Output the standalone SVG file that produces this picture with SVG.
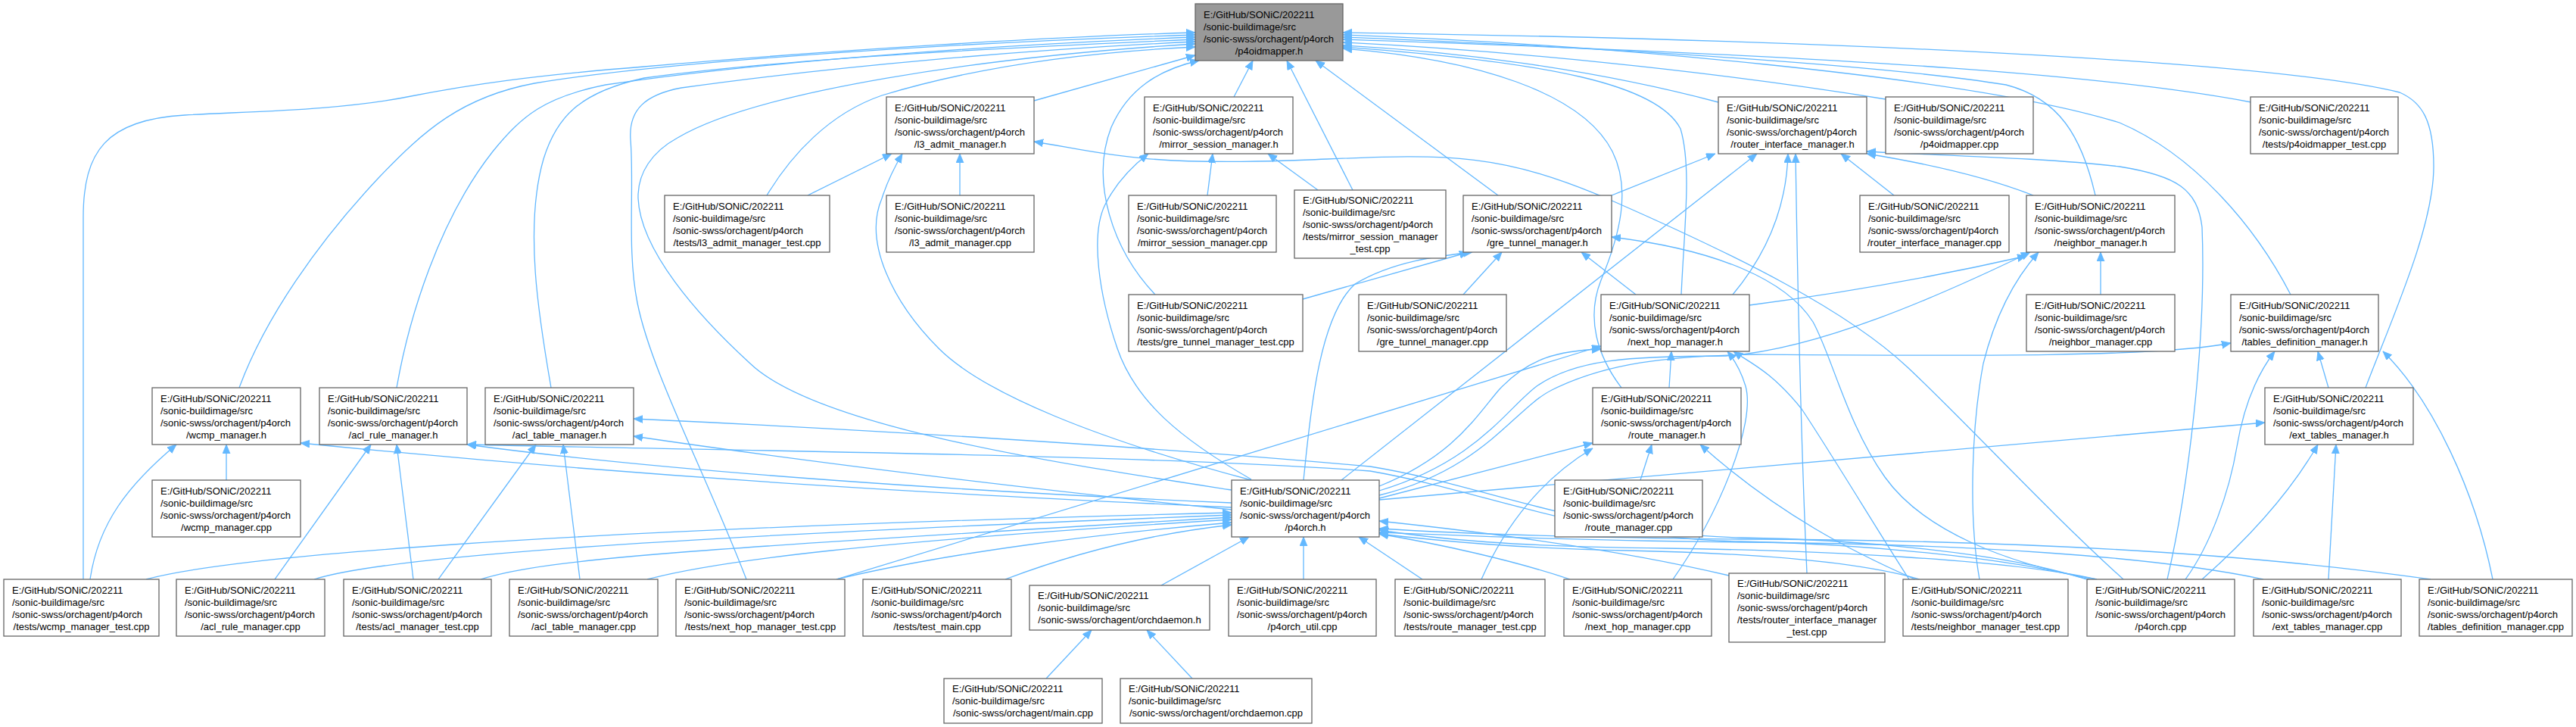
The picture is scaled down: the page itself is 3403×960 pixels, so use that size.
<svg xmlns="http://www.w3.org/2000/svg" width="3403" height="960" viewBox="0 0 3403 960">
<style>
.n rect{fill:#fff;stroke:#666;stroke-width:1.3}
.n text{font-family:"Liberation Sans",Arial,Helvetica,sans-serif;font-size:13px;fill:#000}
.n text.c{text-anchor:middle}
.e path{fill:none;stroke:#63b8ff;stroke-width:1.3;marker-end:url(#a)}
</style>
<defs>
<marker id="a" markerUnits="userSpaceOnUse" markerWidth="13" markerHeight="11" refX="12" refY="5" orient="auto"><path d="M0,0 L12,5 L0,10 z" fill="#63b8ff" stroke="#63b8ff" stroke-width="0.8"/></marker>
</defs>
<rect width="3403" height="960" fill="#fff"/>
<g id="edges" class="e">
<path d="M110,765 L110,287 C110,200 140,158 244,152 C330,147 450,146 543,127 C620,112 700,100 851,88 C1100,66 1400,48 1579,43"/>
<path d="M316,512 C350,420 420,320 500,235 C560,172 610,128 706,110 C900,78 1300,55 1579,46"/>
<path d="M524,512 C540,420 580,290 651,200 C690,152 720,128 800,112 C1000,82 1300,60 1579,49"/>
<path d="M728,512 C712,420 692,300 718,210 C735,155 765,122 851,103 C1050,76 1350,62 1579,52"/>
<path d="M986,765 C930,620 860,490 842,400 C828,330 838,250 833,185 C830,145 852,125 900,116 C1100,88 1350,66 1579,55"/>
<path d="M1627,647 C1400,612 1080,565 991,480 C920,415 846,330 843,262 C842,228 862,200 895,182 C1000,120 1300,75 1579,58"/>
<path d="M1013,258 C1045,205 1095,150 1165,126 C1300,85 1450,68 1579,62"/>
<path d="M1366,133 L1579,73"/>
<path d="M1526,389 C1470,330 1440,240 1468,168 C1490,118 1530,92 1584,80"/>
<path d="M1630,128 L1655,80"/>
<path d="M1787,251 L1700,80"/>
<path d="M1979,258 L1738,80"/>
<path d="M2270,135 C2100,90 1920,68 1774,60"/>
<path d="M2491,131 C2250,92 1980,66 1774,56"/>
<path d="M2974,135 C2800,102 2500,76 1774,52"/>
<path d="M2768,258 C2750,180 2720,130 2650,112 C2450,80 2000,58 1774,49"/>
<path d="M3026,389 C2980,300 2900,205 2800,162 C2600,100 2100,58 1774,46"/>
<path d="M3125,512 C3160,420 3215,300 3215,220 C3215,160 3200,135 3170,122 C3000,80 2400,52 1774,43"/>
<path d="M2142,512 C2110,470 2095,420 2115,370 C2140,310 2155,250 2130,200 C2090,122 1950,78 1774,64"/>
<path d="M2221,389 C2225,300 2235,220 2220,170 C2190,112 2050,82 1774,62"/>
<path d="M1067,258 L1178,203"/>
<path d="M1653,634 C1450,580 1300,520 1240,460 C1180,400 1140,320 1165,262 C1172,240 1182,220 1192,203"/>
<path d="M1268,258 L1268,203"/>
<path d="M2805,765 C2700,670 2600,560 2520,485 S2300,340 2134,267 S1900,205 1700,212 S1450,200 1366,187"/>
<path d="M1653,633 C1560,580 1500,530 1476,460 C1452,390 1440,310 1460,270 C1475,240 1495,220 1517,203"/>
<path d="M1595,258 L1602,203"/>
<path d="M1741,251 L1675,203"/>
<path d="M2129,258 L2266,203"/>
<path d="M1772,634 L2321,203"/>
<path d="M2289,389 C2330,340 2360,280 2362,203"/>
<path d="M2387,757 C2380,600 2375,400 2372,203"/>
<path d="M2502,258 L2432,203"/>
<path d="M2863,765 C2890,650 2915,450 2909,300 C2903,250 2876,232 2800,220 C2700,208 2550,205 2466,200"/>
<path d="M2686,258 C2620,232 2540,215 2466,203"/>
<path d="M1721,395 L1940,333"/>
<path d="M1722,634 C1730,560 1740,420 1790,375 C1840,345 1900,338 1945,333"/>
<path d="M1933,389 L1984,333"/>
<path d="M2161,389 L2089,333"/>
<path d="M2770,765 C2650,745 2540,700 2490,630 C2440,560 2420,470 2395,425 C2360,370 2270,330 2129,313"/>
<path d="M2311,403 C2450,385 2580,360 2677,338"/>
<path d="M2775,389 L2775,333"/>
<path d="M2615,765 C2600,680 2605,560 2620,480 C2635,420 2660,370 2693,333"/>
<path d="M1822,648 C1950,610 1990,540 2030,510 C2080,475 2150,470 2280,470 C2400,462 2560,392 2682,333"/>
<path d="M2205,512 L2208,464"/>
<path d="M2210,765 C2270,680 2320,560 2306,510 C2300,490 2292,476 2282,464"/>
<path d="M1105,765 L2115,457"/>
<path d="M1822,642 C1920,602 1950,550 1980,515 C2020,472 2060,463 2115,461"/>
<path d="M2522,765 C2480,700 2420,600 2380,540 C2340,490 2310,478 2290,464"/>
<path d="M1822,654 C1960,620 2000,540 2050,515 C2120,480 2200,470 2320,468 C2600,470 2850,472 2947,453"/>
<path d="M3293,765 C3270,650 3215,530 3148,464"/>
<path d="M3076,512 L3062,464"/>
<path d="M2887,765 C2920,720 2945,650 2955,590 C2965,530 2985,490 3005,464"/>
<path d="M1822,658 L2104,585"/>
<path d="M1957,765 C1990,690 2040,630 2104,592"/>
<path d="M2167,634 L2182,587"/>
<path d="M2530,765 C2450,730 2350,680 2246,587"/>
<path d="M1822,660 L2992,558"/>
<path d="M2909,765 C2960,720 3020,660 3062,587"/>
<path d="M3076,765 L3086,587"/>
<path d="M119,765 C130,690 170,640 233,587"/>
<path d="M299,634 L299,587"/>
<path d="M1627,670 C1300,655 900,635 397,585"/>
<path d="M363,765 L490,587"/>
<path d="M546,765 L524,587"/>
<path d="M1627,664 C1300,650 900,625 617,587"/>
<path d="M2760,765 C2650,735 2450,718 2300,715 C2100,712 1960,648 1810,622 C1500,600 1000,596 617,587"/>
<path d="M579,765 L708,587"/>
<path d="M766,765 L744,587"/>
<path d="M1627,673 C1300,640 1000,600 837,576"/>
<path d="M2756,765 C2650,730 2450,712 2300,710 C2100,706 1960,640 1810,616 C1500,588 1100,565 837,553"/>
<path d="M2770,765 C2650,738 2400,727 2200,724 C2000,722 1900,712 1822,700"/>
<path d="M2990,765 C2850,735 2600,718 2300,716 C2100,714 1950,708 1822,703"/>
<path d="M3211,765 C3000,735 2700,713 2300,712 C2100,710 1950,706 1822,698"/>
<path d="M2536,765 C2450,740 2300,730 2150,727 C2000,724 1900,714 1822,705"/>
<path d="M2284,760 C2200,740 2050,712 1822,688"/>
<path d="M2074,765 C2000,740 1900,718 1822,705"/>
<path d="M1879,765 L1795,709"/>
<path d="M1722,765 L1722,709"/>
<path d="M1534,773 L1650,709"/>
<path d="M1328,765 C1420,730 1520,705 1627,693"/>
<path d="M1105,765 C1250,730 1450,705 1627,690"/>
<path d="M855,765 C950,740 1150,715 1627,686"/>
<path d="M635,765 C720,738 900,726 1627,683"/>
<path d="M415,765 C500,738 800,712 1627,680"/>
<path d="M193,765 C300,736 700,700 1627,677"/>
<path d="M1382,896 L1442,832"/>
<path d="M1575,896 L1515,832"/>
</g>
<g id="n0" class="n"><rect x="1579" y="5" width="195" height="75" style="fill:#999"/><text x="1590" y="24">E:/GitHub/SONiC/202211</text><text x="1590" y="40">/sonic-buildimage/src</text><text x="1590" y="56">/sonic-swss/orchagent/p4orch</text><text class="c" x="1676.5" y="72">/p4oidmapper.h</text></g>
<g id="n1" class="n"><rect x="1171" y="128" width="195" height="75"/><text x="1182" y="147">E:/GitHub/SONiC/202211</text><text x="1182" y="163">/sonic-buildimage/src</text><text x="1182" y="179">/sonic-swss/orchagent/p4orch</text><text class="c" x="1268.5" y="195">/l3_admit_manager.h</text></g>
<g id="n2" class="n"><rect x="1512" y="128" width="196" height="75"/><text x="1523" y="147">E:/GitHub/SONiC/202211</text><text x="1523" y="163">/sonic-buildimage/src</text><text x="1523" y="179">/sonic-swss/orchagent/p4orch</text><text class="c" x="1610" y="195">/mirror_session_manager.h</text></g>
<g id="n3" class="n"><rect x="2270" y="128" width="196" height="75"/><text x="2281" y="147">E:/GitHub/SONiC/202211</text><text x="2281" y="163">/sonic-buildimage/src</text><text x="2281" y="179">/sonic-swss/orchagent/p4orch</text><text class="c" x="2368" y="195">/router_interface_manager.h</text></g>
<g id="n4" class="n"><rect x="2491" y="128" width="195" height="75"/><text x="2502" y="147">E:/GitHub/SONiC/202211</text><text x="2502" y="163">/sonic-buildimage/src</text><text x="2502" y="179">/sonic-swss/orchagent/p4orch</text><text class="c" x="2588.5" y="195">/p4oidmapper.cpp</text></g>
<g id="n5" class="n"><rect x="2973" y="128" width="195" height="75"/><text x="2984" y="147">E:/GitHub/SONiC/202211</text><text x="2984" y="163">/sonic-buildimage/src</text><text x="2984" y="179">/sonic-swss/orchagent/p4orch</text><text class="c" x="3070.5" y="195">/tests/p4oidmapper_test.cpp</text></g>
<g id="n6" class="n"><rect x="878" y="258" width="218" height="75"/><text x="889" y="277">E:/GitHub/SONiC/202211</text><text x="889" y="293">/sonic-buildimage/src</text><text x="889" y="309">/sonic-swss/orchagent/p4orch</text><text class="c" x="987" y="325">/tests/l3_admit_manager_test.cpp</text></g>
<g id="n7" class="n"><rect x="1171" y="258" width="195" height="75"/><text x="1182" y="277">E:/GitHub/SONiC/202211</text><text x="1182" y="293">/sonic-buildimage/src</text><text x="1182" y="309">/sonic-swss/orchagent/p4orch</text><text class="c" x="1268.5" y="325">/l3_admit_manager.cpp</text></g>
<g id="n8" class="n"><rect x="1491" y="258" width="195" height="75"/><text x="1502" y="277">E:/GitHub/SONiC/202211</text><text x="1502" y="293">/sonic-buildimage/src</text><text x="1502" y="309">/sonic-swss/orchagent/p4orch</text><text class="c" x="1588.5" y="325">/mirror_session_manager.cpp</text></g>
<g id="n9" class="n"><rect x="1710" y="251" width="200" height="90"/><text x="1721" y="269">E:/GitHub/SONiC/202211</text><text x="1721" y="285">/sonic-buildimage/src</text><text x="1721" y="301">/sonic-swss/orchagent/p4orch</text><text x="1721" y="317">/tests/mirror_session_manager</text><text class="c" x="1810" y="333">_test.cpp</text></g>
<g id="n10" class="n"><rect x="1933" y="258" width="196" height="75"/><text x="1944" y="277">E:/GitHub/SONiC/202211</text><text x="1944" y="293">/sonic-buildimage/src</text><text x="1944" y="309">/sonic-swss/orchagent/p4orch</text><text class="c" x="2031" y="325">/gre_tunnel_manager.h</text></g>
<g id="n11" class="n"><rect x="2457" y="258" width="197" height="75"/><text x="2468" y="277">E:/GitHub/SONiC/202211</text><text x="2468" y="293">/sonic-buildimage/src</text><text x="2468" y="309">/sonic-swss/orchagent/p4orch</text><text class="c" x="2555.5" y="325">/router_interface_manager.cpp</text></g>
<g id="n12" class="n"><rect x="2677" y="258" width="196" height="75"/><text x="2688" y="277">E:/GitHub/SONiC/202211</text><text x="2688" y="293">/sonic-buildimage/src</text><text x="2688" y="309">/sonic-swss/orchagent/p4orch</text><text class="c" x="2775" y="325">/neighbor_manager.h</text></g>
<g id="n13" class="n"><rect x="1491" y="389" width="230" height="75"/><text x="1502" y="408">E:/GitHub/SONiC/202211</text><text x="1502" y="424">/sonic-buildimage/src</text><text x="1502" y="440">/sonic-swss/orchagent/p4orch</text><text class="c" x="1606" y="456">/tests/gre_tunnel_manager_test.cpp</text></g>
<g id="n14" class="n"><rect x="1795" y="389" width="195" height="75"/><text x="1806" y="408">E:/GitHub/SONiC/202211</text><text x="1806" y="424">/sonic-buildimage/src</text><text x="1806" y="440">/sonic-swss/orchagent/p4orch</text><text class="c" x="1892.5" y="456">/gre_tunnel_manager.cpp</text></g>
<g id="n15" class="n"><rect x="2115" y="389" width="196" height="75"/><text x="2126" y="408">E:/GitHub/SONiC/202211</text><text x="2126" y="424">/sonic-buildimage/src</text><text x="2126" y="440">/sonic-swss/orchagent/p4orch</text><text class="c" x="2213" y="456">/next_hop_manager.h</text></g>
<g id="n16" class="n"><rect x="2677" y="389" width="196" height="75"/><text x="2688" y="408">E:/GitHub/SONiC/202211</text><text x="2688" y="424">/sonic-buildimage/src</text><text x="2688" y="440">/sonic-swss/orchagent/p4orch</text><text class="c" x="2775" y="456">/neighbor_manager.cpp</text></g>
<g id="n17" class="n"><rect x="2947" y="389" width="195" height="75"/><text x="2958" y="408">E:/GitHub/SONiC/202211</text><text x="2958" y="424">/sonic-buildimage/src</text><text x="2958" y="440">/sonic-swss/orchagent/p4orch</text><text class="c" x="3044.5" y="456">/tables_definition_manager.h</text></g>
<g id="n18" class="n"><rect x="201" y="512" width="196" height="75"/><text x="212" y="531">E:/GitHub/SONiC/202211</text><text x="212" y="547">/sonic-buildimage/src</text><text x="212" y="563">/sonic-swss/orchagent/p4orch</text><text class="c" x="299" y="579">/wcmp_manager.h</text></g>
<g id="n19" class="n"><rect x="422" y="512" width="195" height="75"/><text x="433" y="531">E:/GitHub/SONiC/202211</text><text x="433" y="547">/sonic-buildimage/src</text><text x="433" y="563">/sonic-swss/orchagent/p4orch</text><text class="c" x="519.5" y="579">/acl_rule_manager.h</text></g>
<g id="n20" class="n"><rect x="641" y="512" width="196" height="75"/><text x="652" y="531">E:/GitHub/SONiC/202211</text><text x="652" y="547">/sonic-buildimage/src</text><text x="652" y="563">/sonic-swss/orchagent/p4orch</text><text class="c" x="739" y="579">/acl_table_manager.h</text></g>
<g id="n21" class="n"><rect x="2104" y="512" width="196" height="75"/><text x="2115" y="531">E:/GitHub/SONiC/202211</text><text x="2115" y="547">/sonic-buildimage/src</text><text x="2115" y="563">/sonic-swss/orchagent/p4orch</text><text class="c" x="2202" y="579">/route_manager.h</text></g>
<g id="n22" class="n"><rect x="2992" y="512" width="196" height="75"/><text x="3003" y="531">E:/GitHub/SONiC/202211</text><text x="3003" y="547">/sonic-buildimage/src</text><text x="3003" y="563">/sonic-swss/orchagent/p4orch</text><text class="c" x="3090" y="579">/ext_tables_manager.h</text></g>
<g id="n23" class="n"><rect x="201" y="634" width="196" height="75"/><text x="212" y="653">E:/GitHub/SONiC/202211</text><text x="212" y="669">/sonic-buildimage/src</text><text x="212" y="685">/sonic-swss/orchagent/p4orch</text><text class="c" x="299" y="701">/wcmp_manager.cpp</text></g>
<g id="n24" class="n"><rect x="1627" y="634" width="195" height="75"/><text x="1638" y="653">E:/GitHub/SONiC/202211</text><text x="1638" y="669">/sonic-buildimage/src</text><text x="1638" y="685">/sonic-swss/orchagent/p4orch</text><text class="c" x="1724.5" y="701">/p4orch.h</text></g>
<g id="n25" class="n"><rect x="2054" y="634" width="195" height="75"/><text x="2065" y="653">E:/GitHub/SONiC/202211</text><text x="2065" y="669">/sonic-buildimage/src</text><text x="2065" y="685">/sonic-swss/orchagent/p4orch</text><text class="c" x="2151.5" y="701">/route_manager.cpp</text></g>
<g id="n26" class="n"><rect x="5" y="765" width="205" height="75"/><text x="16" y="784">E:/GitHub/SONiC/202211</text><text x="16" y="800">/sonic-buildimage/src</text><text x="16" y="816">/sonic-swss/orchagent/p4orch</text><text class="c" x="107.5" y="832">/tests/wcmp_manager_test.cpp</text></g>
<g id="n27" class="n"><rect x="233" y="765" width="196" height="75"/><text x="244" y="784">E:/GitHub/SONiC/202211</text><text x="244" y="800">/sonic-buildimage/src</text><text x="244" y="816">/sonic-swss/orchagent/p4orch</text><text class="c" x="331" y="832">/acl_rule_manager.cpp</text></g>
<g id="n28" class="n"><rect x="454" y="765" width="195" height="75"/><text x="465" y="784">E:/GitHub/SONiC/202211</text><text x="465" y="800">/sonic-buildimage/src</text><text x="465" y="816">/sonic-swss/orchagent/p4orch</text><text class="c" x="551.5" y="832">/tests/acl_manager_test.cpp</text></g>
<g id="n29" class="n"><rect x="673" y="765" width="196" height="75"/><text x="684" y="784">E:/GitHub/SONiC/202211</text><text x="684" y="800">/sonic-buildimage/src</text><text x="684" y="816">/sonic-swss/orchagent/p4orch</text><text class="c" x="771" y="832">/acl_table_manager.cpp</text></g>
<g id="n30" class="n"><rect x="893" y="765" width="223" height="75"/><text x="904" y="784">E:/GitHub/SONiC/202211</text><text x="904" y="800">/sonic-buildimage/src</text><text x="904" y="816">/sonic-swss/orchagent/p4orch</text><text class="c" x="1004.5" y="832">/tests/next_hop_manager_test.cpp</text></g>
<g id="n31" class="n"><rect x="1140" y="765" width="196" height="75"/><text x="1151" y="784">E:/GitHub/SONiC/202211</text><text x="1151" y="800">/sonic-buildimage/src</text><text x="1151" y="816">/sonic-swss/orchagent/p4orch</text><text class="c" x="1238" y="832">/tests/test_main.cpp</text></g>
<g id="n32" class="n"><rect x="1360" y="773" width="238" height="59"/><text x="1371" y="791">E:/GitHub/SONiC/202211</text><text x="1371" y="807">/sonic-buildimage/src</text><text class="c" x="1479" y="823">/sonic-swss/orchagent/orchdaemon.h</text></g>
<g id="n33" class="n"><rect x="1623" y="765" width="195" height="75"/><text x="1634" y="784">E:/GitHub/SONiC/202211</text><text x="1634" y="800">/sonic-buildimage/src</text><text x="1634" y="816">/sonic-swss/orchagent/p4orch</text><text class="c" x="1720.5" y="832">/p4orch_util.cpp</text></g>
<g id="n34" class="n"><rect x="1843" y="765" width="198" height="75"/><text x="1854" y="784">E:/GitHub/SONiC/202211</text><text x="1854" y="800">/sonic-buildimage/src</text><text x="1854" y="816">/sonic-swss/orchagent/p4orch</text><text class="c" x="1942" y="832">/tests/route_manager_test.cpp</text></g>
<g id="n35" class="n"><rect x="2066" y="765" width="195" height="75"/><text x="2077" y="784">E:/GitHub/SONiC/202211</text><text x="2077" y="800">/sonic-buildimage/src</text><text x="2077" y="816">/sonic-swss/orchagent/p4orch</text><text class="c" x="2163.5" y="832">/next_hop_manager.cpp</text></g>
<g id="n36" class="n"><rect x="2284" y="757" width="206" height="91"/><text x="2295" y="775">E:/GitHub/SONiC/202211</text><text x="2295" y="791">/sonic-buildimage/src</text><text x="2295" y="807">/sonic-swss/orchagent/p4orch</text><text x="2295" y="823">/tests/router_interface_manager</text><text class="c" x="2387" y="839">_test.cpp</text></g>
<g id="n37" class="n"><rect x="2514" y="765" width="218" height="75"/><text x="2525" y="784">E:/GitHub/SONiC/202211</text><text x="2525" y="800">/sonic-buildimage/src</text><text x="2525" y="816">/sonic-swss/orchagent/p4orch</text><text class="c" x="2623" y="832">/tests/neighbor_manager_test.cpp</text></g>
<g id="n38" class="n"><rect x="2757" y="765" width="195" height="75"/><text x="2768" y="784">E:/GitHub/SONiC/202211</text><text x="2768" y="800">/sonic-buildimage/src</text><text x="2768" y="816">/sonic-swss/orchagent/p4orch</text><text class="c" x="2854.5" y="832">/p4orch.cpp</text></g>
<g id="n39" class="n"><rect x="2977" y="765" width="195" height="75"/><text x="2988" y="784">E:/GitHub/SONiC/202211</text><text x="2988" y="800">/sonic-buildimage/src</text><text x="2988" y="816">/sonic-swss/orchagent/p4orch</text><text class="c" x="3074.5" y="832">/ext_tables_manager.cpp</text></g>
<g id="n40" class="n"><rect x="3196" y="765" width="202" height="75"/><text x="3207" y="784">E:/GitHub/SONiC/202211</text><text x="3207" y="800">/sonic-buildimage/src</text><text x="3207" y="816">/sonic-swss/orchagent/p4orch</text><text class="c" x="3297" y="832">/tables_definition_manager.cpp</text></g>
<g id="n41" class="n"><rect x="1247" y="896" width="209" height="59"/><text x="1258" y="914">E:/GitHub/SONiC/202211</text><text x="1258" y="930">/sonic-buildimage/src</text><text class="c" x="1351.5" y="946">/sonic-swss/orchagent/main.cpp</text></g>
<g id="n42" class="n"><rect x="1480" y="896" width="253" height="59"/><text x="1491" y="914">E:/GitHub/SONiC/202211</text><text x="1491" y="930">/sonic-buildimage/src</text><text class="c" x="1606.5" y="946">/sonic-swss/orchagent/orchdaemon.cpp</text></g>
</svg>
